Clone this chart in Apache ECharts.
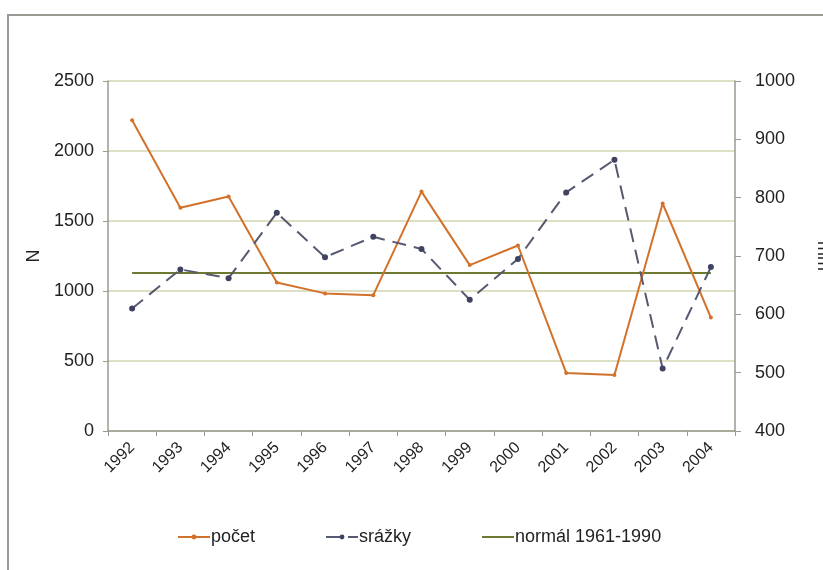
<!DOCTYPE html>
<html lang="cs">
<head>
<meta charset="UTF-8">
<title>počet a srážky</title>
<script src="https://cdn.jsdelivr.net/npm/echarts@6/dist/echarts.min.js"></script>
<style>
    html, body { margin: 0; padding: 0; background: #fff; overflow: hidden; }
    #frame { position: absolute; left: 7px; top: 14px; width: 840px; height: 600px; border: 2px solid #9a9a92; }
    #container { position: absolute; left: 0; top: 0; width: 823px; height: 570px; }
</style>
</head>
<body>
<div id="frame"></div>
<div id="container"></div>
<script type="text/javascript">
    // roky
    var years = ['1992','1993','1994','1995','1996','1997','1998','1999','2000','2001','2002','2003','2004'];
    // počet (N), levá osa
    var pocet = [2220,1595,1675,1060,983,970,1710,1185,1325,415,400,1625,810];
    // srážky (mm), pravá osa
    var srazky = [610,677,662,774,698,733,712,625,695,809,865,507,681];
    // normál 1961-1990 (mm)
    var normal = [671,671,671,671,671,671,671,671,671,671,671,671,671];

    var dom = document.getElementById('container');
    var myChart = echarts.init(dom, null, { renderer: 'canvas' });
    var font = 'Liberation Sans';
    var plain = function (v) { return String(v); };

    var option = {
        animation: false,
        textStyle: { fontFamily: font },
        grid: { left: 108, right: 88, top: 81, bottom: 139, outerBoundsMode: 'none', containLabel: false },
        legend: {
            top: 523,
            left: 172,
            itemGap: 70,
            itemWidth: 32,
            itemHeight: 6,
            textStyle: { fontSize: 18, color: '#222', fontFamily: font, padding: [0, 0, 0, -4] },
            data: ['počet', 'srážky', { name: 'normál 1961-1990', itemStyle: { opacity: 0 } }]
        },
        xAxis: {
            type: 'category',
            data: years,
            boundaryGap: true,
            axisLine: { lineStyle: { color: '#9a9a90', width: 1.5 } },
            axisTick: { show: true, length: 5, lineStyle: { color: '#9a9a90' } },
            axisLabel: { rotate: 45, fontSize: 16, color: '#222', margin: 14, fontFamily: font }
        },
        yAxis: [
            {
                type: 'value',
                name: 'N',
                nameLocation: 'middle',
                nameGap: 58,
                nameTextStyle: { fontSize: 18, color: '#222' },
                min: 0, max: 2500, interval: 500,
                axisLine: { show: true, lineStyle: { color: '#9a9a90', width: 1.5 } },
                axisTick: { show: true, length: 5, lineStyle: { color: '#9a9a90' } },
                axisLabel: { fontSize: 18, color: '#222', margin: 14, formatter: plain },
                splitLine: { lineStyle: { color: '#d4d4b0', width: 1.5 } }
            },
            {
                type: 'value',
                name: 'mm',
                nameLocation: 'middle',
                nameGap: 79,
                nameRotate: -90,
                nameTextStyle: { fontSize: 18, color: '#222' },
                min: 400, max: 1000, interval: 100,
                axisLine: { show: true, lineStyle: { color: '#9a9a90', width: 1.5 } },
                axisTick: { show: true, length: 6, lineStyle: { color: '#9a9a90' } },
                axisLabel: { fontSize: 18, color: '#222', margin: 20, formatter: plain },
                splitLine: { show: false }
            }
        ],
        series: [
            {
                name: 'počet',
                type: 'line',
                yAxisIndex: 0,
                data: pocet,
                symbol: 'circle',
                symbolSize: 4,
                itemStyle: { color: '#d2722a' },
                lineStyle: { color: '#d2722a', width: 2 },
                z: 3
            },
            {
                name: 'srážky',
                type: 'line',
                yAxisIndex: 1,
                data: srazky,
                symbol: 'circle',
                symbolSize: 6,
                itemStyle: { color: '#3f4260' },
                lineStyle: { color: '#555a70', width: 2, type: [14, 8] },
                z: 4
            },
            {
                name: 'normál 1961-1990',
                type: 'line',
                yAxisIndex: 1,
                data: normal,
                symbol: 'none',
                itemStyle: { color: '#6b7a30' },
                lineStyle: { color: '#6b7a30', width: 2 },
                z: 2
            }
        ]
    };
    myChart.setOption(option);
    window.addEventListener('resize', myChart.resize);
</script>
</body>
</html>
